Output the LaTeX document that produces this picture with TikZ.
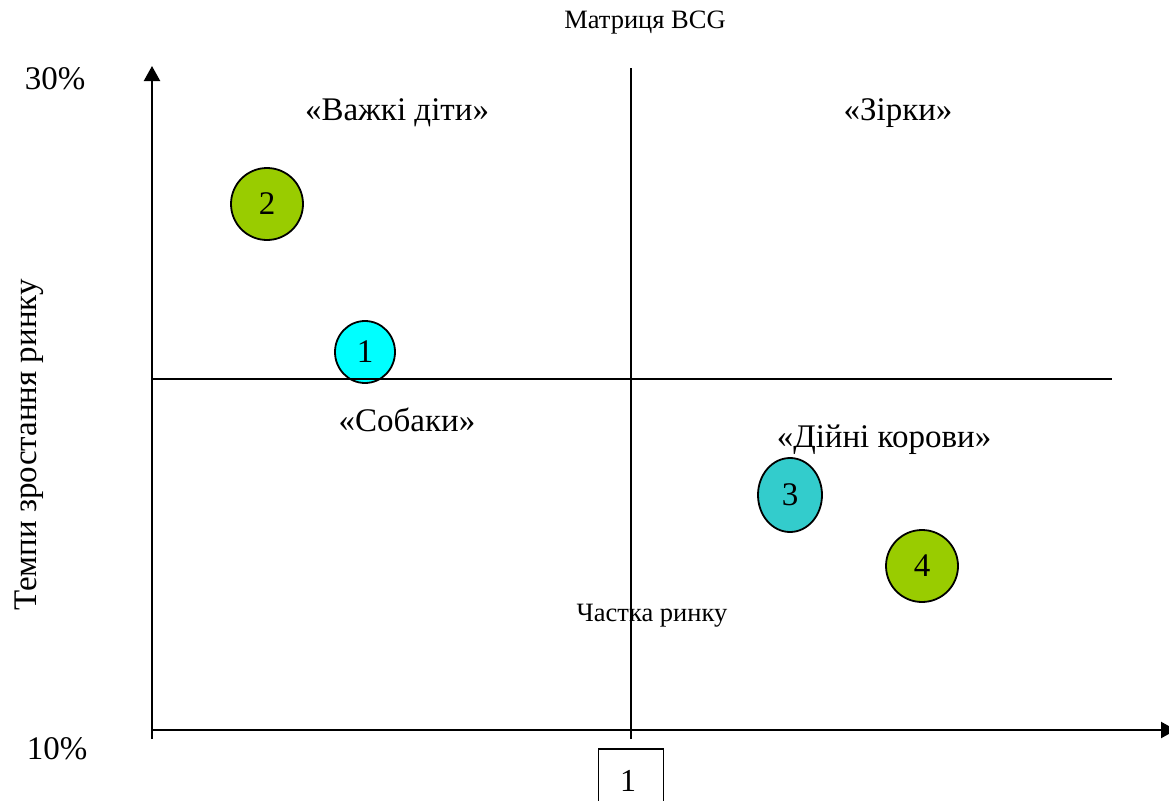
\documentclass[tikz,border=0pt]{standalone}
\usepackage{fontspec}
\setmainfont{Liberation Serif}
\usetikzlibrary{arrows.meta,shapes.geometric}
\definecolor{leaf}{HTML}{99CC00}
\definecolor{aqua}{HTML}{00FFFF}
\definecolor{teal2}{HTML}{33CCCC}
\begin{document}
\begin{tikzpicture}[x=1pt,y=-1pt,
  axis/.style={line width=2.2pt,-{Triangle[length=15pt,width=16pt]}},
  divider/.style={line width=1.8pt},
  quad/.style={font=\fontsize{33}{38}\selectfont},
  small/.style={font=\fontsize{26.5}{31}\selectfont},
  bubble/.style={draw,line width=1.8pt,ellipse,inner sep=0pt,font=\fontsize{33}{38}\selectfont}]
\useasboundingbox (0,0) rectangle (1169,800);

% bubbles
\node[bubble,fill=leaf,minimum width=72pt,minimum height=72pt] (b2) at (267,204) {2};
\node[bubble,fill=aqua,minimum width=60pt,minimum height=62pt] (b1) at (365,352) {1};
\node[bubble,fill=teal2,minimum width=64pt,minimum height=74pt] (b3) at (790,495) {3};
\node[bubble,fill=leaf,minimum width=72pt,minimum height=72pt] (b4) at (922,566) {4};

% axes and dividers
\coordinate (o) at (152,739);
\coordinate (ytop) at (152,66);
\coordinate (xl) at (152,730);
\coordinate (xr) at (1176,730);
\coordinate (mt) at (631,68);
\coordinate (mb) at (631,739);
\coordinate (hl) at (152,379);
\coordinate (hr) at (1112,379);
\draw[axis] (o) -- (ytop);
\draw[axis] (xl) -- (xr);
\draw[divider] (mb) -- (mt);
\draw[divider] (hl) -- (hr);

% unit box
\node[draw,line width=1.6pt,minimum width=65pt,minimum height=60pt,anchor=north] (unit) at (631,748) {};
\node[font=\fontsize{32}{36}\selectfont] (unitlbl) at (628,781) {1};

% texts
\node[small] (title) at (645,23) {Матриця BCG};
\node[quad] (t30) at (55,79) {30\%};
\node[quad] (t10) at (57,749) {10\%};
\node[quad,rotate=90] (ylab) at (29,445) {Темпи зростання ринку};
\node[small] (xlab) at (652,616) {Частка ринку};
\node[quad] (q1) at (397,113) {«Важкі діти»};
\node[quad] (q2) at (898,113) {«Зірки»};
\node[quad] (q3) at (407,420) {«Собаки»};
\node[quad] (q4) at (884,440) {«Дійні корови»};
\end{tikzpicture}
\end{document}
